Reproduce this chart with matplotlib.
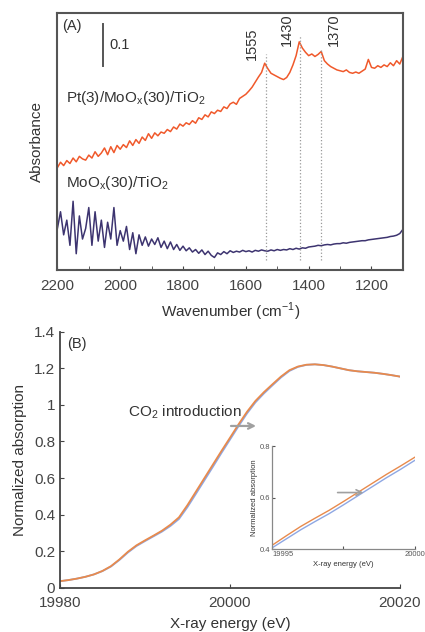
import numpy as np
import matplotlib
matplotlib.use('Agg')
import matplotlib.pyplot as plt

plt.rcParams['font.family'] = ['Liberation Sans', 'DejaVu Sans']
plt.rcParams['mathtext.fontset'] = 'custom'
plt.rcParams['mathtext.rm'] = 'Liberation Sans'
plt.rcParams['text.color'] = '#333333'
plt.rcParams['axes.labelcolor'] = '#333333'
plt.rcParams['xtick.color'] = '#444444'
plt.rcParams['ytick.color'] = '#444444'

# ---- panel A data (IR spectra) ----
wavenumber = np.arange(2200, 1099, -10)
pt_moox_tio2 = [
    0.245, 0.258, 0.250, 0.262, 0.255, 0.268, 0.259, 0.272, 0.266, 0.263,
    0.275, 0.268, 0.283, 0.272, 0.280, 0.292, 0.276, 0.295, 0.281, 0.298,
    0.289, 0.300, 0.293, 0.309, 0.298, 0.312, 0.303, 0.318, 0.310, 0.326,
    0.315, 0.328, 0.321, 0.330, 0.327, 0.336, 0.331, 0.342, 0.337, 0.349,
    0.344, 0.352, 0.348, 0.357, 0.351, 0.364, 0.360, 0.371, 0.366, 0.378,
    0.374, 0.382, 0.379, 0.390, 0.386, 0.397, 0.401, 0.396, 0.410, 0.415,
    0.420, 0.428, 0.437, 0.449, 0.461, 0.472, 0.494, 0.481, 0.470, 0.466,
    0.462, 0.458, 0.455, 0.460, 0.472, 0.490, 0.512, 0.545, 0.530, 0.520,
    0.512, 0.516, 0.510, 0.515, 0.522, 0.500, 0.492, 0.486, 0.482, 0.478,
    0.476, 0.474, 0.478, 0.472, 0.470, 0.473, 0.470, 0.475, 0.480, 0.503,
    0.484, 0.482, 0.488, 0.484, 0.490, 0.486, 0.495, 0.488, 0.500, 0.492,
    0.510]
moox_tio2 = [
    0.100, 0.140, 0.085, 0.120, 0.060, 0.165, 0.040, 0.130, 0.075, 0.100,
    0.150, 0.060, 0.140, 0.070, 0.120, 0.055, 0.115, 0.075, 0.150, 0.060,
    0.095, 0.070, 0.105, 0.050, 0.090, 0.040, 0.085, 0.060, 0.080, 0.058,
    0.075, 0.062, 0.078, 0.055, 0.070, 0.052, 0.068, 0.050, 0.062, 0.048,
    0.058, 0.047, 0.054, 0.044, 0.050, 0.041, 0.049, 0.038, 0.046, 0.036,
    0.031, 0.042, 0.038, 0.045, 0.040, 0.047, 0.043, 0.046, 0.044, 0.048,
    0.045, 0.047, 0.044, 0.048, 0.046, 0.049, 0.047, 0.046, 0.049, 0.047,
    0.050, 0.048, 0.050, 0.049, 0.052, 0.050, 0.053, 0.051, 0.054, 0.053,
    0.056, 0.057, 0.058, 0.060, 0.059, 0.061, 0.062, 0.061, 0.063, 0.064,
    0.064, 0.066, 0.065, 0.067, 0.068, 0.069, 0.070, 0.071, 0.071, 0.073,
    0.074, 0.075, 0.076, 0.077, 0.078, 0.079, 0.081, 0.082, 0.084, 0.088,
    0.098]
peak_pos = [1537, 1428, 1361]
peak_labels = ['1555', '1430', '1370']
peak_tops = [0.515, 0.560, 0.525]

# ---- panel B data (XANES) ----
energy = np.arange(19980, 20021, 1)
abs_after = [0.036, 0.042, 0.050, 0.060, 0.073, 0.092, 0.118, 0.155, 0.197, 0.232,
             0.259, 0.285, 0.312, 0.345, 0.385, 0.452, 0.526, 0.600, 0.674, 0.748,
             0.820, 0.893, 0.962, 1.022, 1.070, 1.113, 1.155, 1.190, 1.210, 1.220,
             1.222, 1.218, 1.210, 1.200, 1.190, 1.184, 1.180, 1.176, 1.170, 1.163,
             1.155]
abs_before = [0.036, 0.042, 0.050, 0.060, 0.073, 0.091, 0.116, 0.152, 0.193, 0.228,
              0.255, 0.281, 0.307, 0.338, 0.376, 0.441, 0.514, 0.588, 0.662, 0.737,
              0.810, 0.883, 0.953, 1.014, 1.063, 1.107, 1.150, 1.186, 1.208, 1.219,
              1.222, 1.218, 1.210, 1.200, 1.190, 1.184, 1.180, 1.176, 1.170, 1.163,
              1.155]
inset_energy = [19995, 19995.5, 19996, 19996.5, 19997, 19997.5, 19998, 19998.5,
                19999, 19999.5, 20000]
inset_before = [0.405, 0.44, 0.475, 0.507, 0.538, 0.572, 0.607, 0.642, 0.677, 0.71, 0.745]
inset_after = [0.415, 0.452, 0.488, 0.52, 0.551, 0.585, 0.62, 0.655, 0.69, 0.723, 0.757]

orange_a = '#f0592b'
navy = '#3d3470'
c_orange = '#e88a4c'
c_blue = '#8ea7e3'

fig = plt.figure(figsize=(4.25, 6.32), dpi=100)

# ===== panel A =====
axA = fig.add_axes([0.135, 0.572, 0.813, 0.407])
axA.plot(wavenumber, pt_moox_tio2, color=orange_a, lw=1.1)
axA.plot(wavenumber, moox_tio2, color=navy, lw=1.1)
for p, top in zip(peak_pos, peak_tops):
    axA.plot([p, p], [0.025, top], color='#999999', lw=0.9, ls=':')
axA.text(1580, 0.54, peak_labels[0], rotation=90, ha='center', va='center', fontsize=10.5)
axA.text(1470, 0.575, peak_labels[1], rotation=90, ha='center', va='center', fontsize=10.5)
axA.text(1320, 0.575, peak_labels[2], rotation=90, ha='center', va='center', fontsize=10.5)
# 0.1 scale bar
axA.plot([2055, 2055], [0.488, 0.588], color='#555555', lw=1.4)
axA.text(2035, 0.538, '0.1', ha='left', va='center', fontsize=10.5)
axA.text(0.015, 0.935, '(A)', transform=axA.transAxes, fontsize=10.5)
axA.text(0.025, 0.655, r'Pt(3)/MoO$_\mathregular{x}$(30)/TiO$_\mathregular{2}$',
         transform=axA.transAxes, fontsize=11)
axA.text(0.025, 0.325, r'MoO$_\mathregular{x}$(30)/TiO$_\mathregular{2}$',
         transform=axA.transAxes, fontsize=11)
axA.set_xlim(2200, 1100)
axA.set_ylim(0, 0.613)
axA.set_xticks([2200, 2000, 1800, 1600, 1400, 1200])
axA.set_xticks(np.arange(2100, 1100, -200), minor=True)
axA.set_yticks([])
axA.tick_params(axis='x', direction='in', length=3, labelsize=11, pad=6)
axA.tick_params(axis='x', which='minor', direction='in', length=3)
for s in axA.spines.values():
    s.set_color('#555555')
    s.set_linewidth(1.5)
axA.set_xlabel('Wavenumber (cm$^{-1}$)', fontsize=11)
axA.xaxis.set_label_coords(0.5, -0.118)
axA.set_ylabel('Absorbance', fontsize=11)
axA.yaxis.set_label_coords(-0.038, 0.5)

# ===== panel B =====
axB = fig.add_axes([0.141, 0.070, 0.800, 0.405])
axB.plot(energy, abs_before, color=c_blue, lw=1.3)
axB.plot(energy, abs_after, color=c_orange, lw=1.3)
axB.set_xlim(19980, 20020)
axB.set_ylim(0, 1.4)
axB.set_xticks([19980, 20000, 20020])
axB.set_yticks([0, 0.2, 0.4, 0.6, 0.8, 1, 1.2, 1.4])
axB.set_yticklabels(['0', '0.2', '0.4', '0.6', '0.8', '1', '1.2', '1.4'])
axB.tick_params(direction='in', length=3, labelsize=11)
axB.tick_params(axis='x', pad=6)
for side in ['top', 'right']:
    axB.spines[side].set_visible(False)
for side in ['left', 'bottom']:
    axB.spines[side].set_color('#444444')
    axB.spines[side].set_linewidth(1.3)
axB.set_xlabel('X-ray energy (eV)', fontsize=11)
axB.xaxis.set_label_coords(0.5, -0.113)
axB.set_ylabel('Normalized absorption', fontsize=11)
axB.yaxis.set_label_coords(-0.097, 0.5)
axB.text(0.02, 0.935, '(B)', transform=axB.transAxes, fontsize=10.5)
axB.text(20001.4, 0.958, r'CO$_\mathregular{2}$ introduction', ha='right', va='center', fontsize=11)
axB.annotate('', xy=(20003.4, 0.885), xytext=(19999.8, 0.885),
             arrowprops=dict(arrowstyle='->', color='#a0a0a0', lw=1.6))

# inset
axI = fig.add_axes([0.640, 0.131, 0.336, 0.163])
axI.plot(inset_energy, inset_before, color=c_blue, lw=1.0)
axI.plot(inset_energy, inset_after, color=c_orange, lw=1.0)
axI.set_xlim(19995, 20000)
axI.set_ylim(0.4, 0.8)
axI.set_xticks([19995, 19997.5, 20000])
axI.set_xticklabels(['19995', '', '20000'])
axI.get_xticklabels()[0].set_horizontalalignment('left')
axI.set_yticks([0.4, 0.6, 0.8])
axI.set_yticklabels(['0.4', '0.6', '0.8'])
axI.tick_params(direction='in', length=2, labelsize=5.5, pad=1.5, colors='#555555')
for side in ['top', 'right']:
    axI.spines[side].set_visible(False)
for side in ['left', 'bottom']:
    axI.spines[side].set_color('#888888')
    axI.spines[side].set_linewidth(0.9)
axI.set_xlabel('X-ray energy (eV)', fontsize=5.5, labelpad=2)
axI.set_ylabel('Normalized absorption', fontsize=5.5, labelpad=1)
axI.annotate('', xy=(19998.3, 0.62), xytext=(19997.2, 0.62),
             arrowprops=dict(arrowstyle='->', color='#a0a0a0', lw=1.2))

fig.savefig('out.png', dpi=100)
